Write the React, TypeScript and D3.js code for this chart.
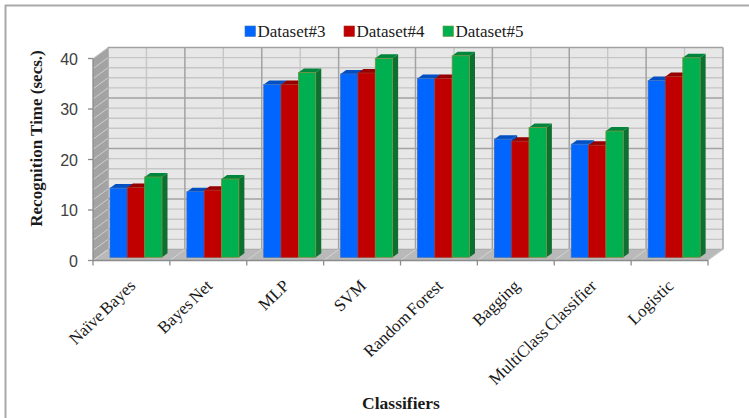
import React from "react";
import * as d3 from "d3";

const classifiers = ["Naïve Bayes", "Bayes Net", "MLP", "SVM", "Random Forest", "Bagging", "MultiClass Classifier", "Logistic"];
const seriesNames = ["Dataset#3", "Dataset#4", "Dataset#5"];
const dataset3 = [13.7, 13.0, 34.2, 36.3, 35.4, 23.4, 22.4, 35.0];
const dataset4 = [13.8, 13.3, 34.2, 36.5, 35.4, 23.0, 22.2, 35.8];
const dataset5 = [15.9, 15.5, 36.6, 39.4, 39.9, 25.7, 25.0, 39.5];
const seriesValues = [dataset3, dataset4, dataset5];
const frontColors = ["#0066ff", "#c00000", "#00b050"];
const topColors = ["#0050c4", "#960000", "#00863c"];
const sideColors = ["#0048b0", "#800000", "#0b7030"];
const strokeColors = ["#3a6fc0", "#a83020", "#7a8f3c"];
const valueTicks = [0, 10, 20, 30, 40];
const minorTicks = d3.range(0, 41, 2);

const left = 93;
const right = 708;
const baseY = 260.5;
const topY = 58.5;
const wallDx = 15;
const wallDy = -11;
const barShiftY = -3.2;
const depthDx = 5.5;
const depthDy = -4;
const grey = "#404040";

const y = d3.scaleLinear().domain([0, 40]).range([baseY, topY]);
const x = d3.scaleBand<string>().domain(classifiers).range([left, right]);
const inner = d3.scaleBand<string>().domain(seriesNames).range([17, 69]);

const edges = d3.range(0, classifiers.length + 1).map((i) => left + i * x.step());
const mids = d3.range(0, classifiers.length).map((i) => left + (i + 0.5) * x.step());

const points = (list: number[][]) => list.map((p) => p.join(",")).join(" ");

export default function App() {
  const serif = "'Liberation Serif', serif";
  return (
    <svg width={749} height={418} style={{ position: "absolute", left: 0, top: 0, background: "#fff" }}>
      {/* Outer frame: only the top and left rules are present */}
      <line x1={5} y1={5.5} x2={749} y2={5.5} stroke="#a9a9a9" strokeWidth={2} />
      <line x1={5.5} y1={5} x2={5.5} y2={418} stroke="#a9a9a9" strokeWidth={2} />

      {/* Back wall */}
      <rect x={left + wallDx} y={topY + wallDy} width={right - left} height={baseY - topY} fill="#e7e7e7" />
      {minorTicks.filter((t) => t % 10 !== 0).map((t) => (
        <line key={t} x1={left + wallDx} x2={right + wallDx} y1={y(t) + wallDy} y2={y(t) + wallDy} stroke="#c6c6c6" strokeWidth={1.4} />
      ))}
      {mids.map((m) => (
        <line key={m} x1={m + wallDx} x2={m + wallDx} y1={topY + wallDy} y2={baseY + wallDy} stroke="#c6c6c6" strokeWidth={1.4} />
      ))}
      {valueTicks.map((t) => (
        <line key={t} x1={left + wallDx} x2={right + wallDx} y1={y(t) + wallDy} y2={y(t) + wallDy} stroke="#a2a2a2" strokeWidth={1.5} />
      ))}
      {edges.map((e) => (
        <line key={e} x1={e + wallDx} x2={e + wallDx} y1={topY + wallDy} y2={baseY + wallDy} stroke="#a2a2a2" strokeWidth={1.5} />
      ))}

      {/* Left wall */}
      <polygon
        points={points([[left, baseY], [left + wallDx, baseY + wallDy], [left + wallDx, topY + wallDy], [left, topY]])}
        fill="#a3a3a3"
      />
      {minorTicks.map((t) => (
        <line key={t} x1={left} x2={left + wallDx} y1={y(t)} y2={y(t) + wallDy} stroke="#cfcfcf" strokeWidth={1} />
      ))}

      {/* Floor */}
      <polygon
        points={points([[left, baseY], [right, baseY], [right + wallDx, baseY + wallDy], [left + wallDx, baseY + wallDy]])}
        fill="#b9b9b9"
      />
      {edges.map((e) => (
        <line key={e} x1={e} x2={e + wallDx} y1={baseY} y2={baseY + wallDy} stroke="#d4d4d4" strokeWidth={1} />
      ))}

      {/* Axes */}
      <line x1={left} x2={right} y1={baseY} y2={baseY} stroke="#8c8c8c" strokeWidth={1.3} />
      <line x1={left} x2={left} y1={topY} y2={baseY} stroke="#8c8c8c" strokeWidth={1.3} />
      {edges.map((e) => (
        <line key={e} x1={e} x2={e} y1={baseY} y2={baseY + 5} stroke="#8c8c8c" strokeWidth={1.3} />
      ))}
      {valueTicks.map((t) => (
        <g key={t}>
          <line x1={left - 5} x2={left} y1={y(t)} y2={y(t)} stroke="#8c8c8c" strokeWidth={1.3} />
          <text x={78} y={y(t) + 6} textAnchor="end" fontFamily="'Liberation Sans', sans-serif" fontSize={16} fill={grey}>
            {t}
          </text>
        </g>
      ))}

      {/* Bars, each a front face with top and side faces */}
      {classifiers.map((c, ci) => (
        <g key={c}>
          {seriesNames.map((s, si) => {
            const x0 = (x(c) as number) + (inner(s) as number);
            const w = inner.bandwidth();
            const yTop = y(seriesValues[si][ci]) + barShiftY;
            const yBase = baseY + barShiftY;
            return (
              <g key={s}>
                <polygon
                  points={points([[x0 + w, yTop], [x0 + w + depthDx, yTop + depthDy], [x0 + w + depthDx, yBase + depthDy], [x0 + w, yBase]])}
                  fill={sideColors[si]}
                />
                <polygon
                  points={points([[x0, yTop], [x0 + depthDx, yTop + depthDy], [x0 + w + depthDx, yTop + depthDy], [x0 + w, yTop]])}
                  fill={topColors[si]}
                />
                <rect x={x0} y={yTop} width={w} height={yBase - yTop} fill={frontColors[si]} stroke={strokeColors[si]} strokeWidth={0.8} />
              </g>
            );
          })}
        </g>
      ))}

      {/* Legend */}
      {seriesNames.map((s, i) => {
        const lx = 245 + i * 99;
        return (
          <g key={s}>
            <rect x={lx} y={26} width={10.5} height={10.5} fill={frontColors[i]} stroke={strokeColors[i]} strokeWidth={0.6} />
            <text x={lx + 12.5} y={36.5} fontFamily={serif} fontSize={17} fill="#1a1a1a">
              {s}
            </text>
          </g>
        );
      })}

      {/* Category labels */}
      {classifiers.map((c) => {
        const cx = (x(c) as number) + x.bandwidth() / 2 + 5;
        return (
          <text
            key={c}
            transform={`translate(${cx},${287}) rotate(-44)`}
            textAnchor="end"
            fontFamily={serif}
            fontSize={17}
            wordSpacing={-2}
            fill="#1a1a1a"
          >
            {c}
          </text>
        );
      })}

      {/* Axis titles */}
      <text
        transform="translate(42,138.5) rotate(-90)"
        textAnchor="middle"
        fontFamily={serif}
        fontWeight="bold"
        fontSize={17}
        fill="#1a1a1a"
      >
        Recognition Time (secs.)
      </text>
      <text x={401} y={409} textAnchor="middle" fontFamily={serif} fontWeight="bold" fontSize={17.5} fill="#1a1a1a">
        Classifiers
      </text>
    </svg>
  );
}
